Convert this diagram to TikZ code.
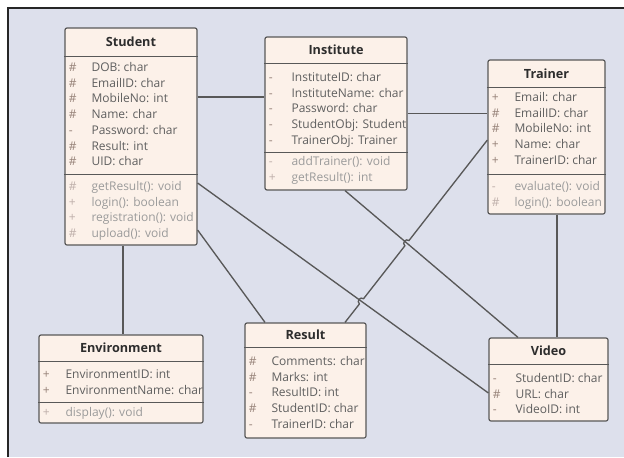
\documentclass[tikz,border=0pt]{standalone}
\usepackage{fontspec}
\setmainfont{Open Sans}
\usetikzlibrary{calc}

\definecolor{bgcol}{RGB}{221,224,236}
\definecolor{boxfill}{RGB}{252,241,233}
\definecolor{boxline}{RGB}{88,88,88}
\definecolor{namecol}{RGB}{45,45,45}
\definecolor{attrcol}{RGB}{95,95,95}
\definecolor{attrmark}{RGB}{150,130,120}
\definecolor{opcol}{RGB}{155,155,155}
\definecolor{opmark}{RGB}{190,175,170}

\newcommand{\va}[1]{\makebox[17pt][l]{\textcolor{attrmark}{#1}}}
\newcommand{\vo}[1]{\makebox[17pt][l]{\textcolor{opmark}{#1}}}

\tikzset{every picture/.style={line width=0.75pt}}
\tikzset{
	classbox/.style={draw=boxline, fill=boxfill, line width=0.9pt, rounded corners=1.5pt, inner sep=0pt},
	classname/.style={font=\fontsize{9.5}{11}\selectfont\bfseries, text=namecol, inner sep=0pt},
	attrlist/.style={anchor=base west, inner sep=0pt, font=\fontsize{9}{11.8}\selectfont, text=attrcol},
	oplist/.style={attrlist, text=opcol},
	divider/.style={draw=boxline, line width=0.9pt},
	assoc/.style={draw=boxline, line width=1pt}
}

\begin{document}
\begin{tikzpicture}[x=0.75pt,y=0.75pt,yscale=-1,xscale=1]
		\useasboundingbox (0,0) rectangle (624,457);
		
		%Frame and background
		\fill[bgcol] (8,8) rectangle (624,457);
		\draw[line width=1.5pt, black!85] (8,457) -- (8,8) -- (624,8);
		
		%Class boxes
		\node[classbox, minimum width=99pt, minimum height=162.75pt] (student) at (131,136.5) {};
		\node[classbox, minimum width=106.5pt, minimum height=114.75pt] (institute) at (336,113.5) {};
		\node[classbox, minimum width=87.75pt, minimum height=115.5pt] (trainer) at (546.5,137) {};
		\node[classbox, minimum width=123pt, minimum height=66pt] (environment) at (121,379) {};
		\node[classbox, minimum width=90.75pt, minimum height=86.25pt] (result) at (305.5,380.5) {};
		\node[classbox, minimum width=89.25pt, minimum height=62.25pt] (video) at (548.5,379.5) {};
		
		%Student
		\node[classname] (student-t) at ($(student.north)+(0,14.5)$) {Student};
		\draw[divider] ($(student.north west)+(0,29)$) -- ($(student.north east)+(0,29)$);
		\node[attrlist] (student-a) at ($(student.north west)+(4,44)$) {\begin{tabular}[t]{@{}l@{}}
				\va{\#}DOB: char\\ \va{\#}EmailID: char\\ \va{\#}MobileNo: int\\ \va{\#}Name: char\\
				\va{-}Password: char\\ \va{\#}Result: int\\ \va{\#}UID: char\end{tabular}};
		\draw[divider] ($(student.north west)+(0,147)$) -- ($(student.north east)+(0,147)$);
		\node[oplist] (student-o) at ($(student.north west)+(4,163)$) {\begin{tabular}[t]{@{}l@{}}
				\vo{\#}getResult(): void\\ \vo{+}login(): boolean\\ \vo{+}registration(): void\\ \vo{\#}upload(): void\end{tabular}};
		
		%Institute
		\node[classname] (institute-t) at ($(institute.north)+(0,13.5)$) {Institute};
		\draw[divider] ($(institute.north west)+(0,27)$) -- ($(institute.north east)+(0,27)$);
		\node[attrlist] (institute-a) at ($(institute.north west)+(4,45)$) {\begin{tabular}[t]{@{}l@{}}
				\va{-}InstituteID: char\\ \va{-}InstituteName: char\\ \va{-}Password: char\\
				\va{-}StudentObj: Student\\ \va{-}TrainerObj: Trainer\end{tabular}};
		\draw[divider] ($(institute.north west)+(0,116)$) -- ($(institute.north east)+(0,116)$);
		\node[oplist] (institute-o) at ($(institute.north west)+(4,129)$) {\begin{tabular}[t]{@{}l@{}}
				\vo{-}addTrainer(): void\\ \vo{+}getResult(): int\end{tabular}};
		
		%Trainer
		\node[classname] (trainer-t) at ($(trainer.north)+(0,14)$) {Trainer};
		\draw[divider] ($(trainer.north west)+(0,28)$) -- ($(trainer.north east)+(0,28)$);
		\node[attrlist] (trainer-a) at ($(trainer.north west)+(4,42)$) {\begin{tabular}[t]{@{}l@{}}
				\va{+}Email: char\\ \va{\#}EmailID: char\\ \va{\#}MobileNo: int\\ \va{+}Name: char\\ \va{+}TrainerID: char\end{tabular}};
		\draw[divider] ($(trainer.north west)+(0,115)$) -- ($(trainer.north east)+(0,115)$);
		\node[oplist] (trainer-o) at ($(trainer.north west)+(4,131)$) {\begin{tabular}[t]{@{}l@{}}
				\vo{-}evaluate(): void\\ \vo{\#}login(): boolean\end{tabular}};
		
		%Environment
		\node[classname] (environment-t) at ($(environment.north)+(0,13.5)$) {Environment};
		\draw[divider] ($(environment.north west)+(0,27)$) -- ($(environment.north east)+(0,27)$);
		\node[attrlist] (environment-a) at ($(environment.north west)+(4,44)$) {\begin{tabular}[t]{@{}l@{}}
				\va{+}EnvironmentID: int\\ \va{+}EnvironmentName: char\end{tabular}};
		\draw[divider] ($(environment.north west)+(0,68)$) -- ($(environment.north east)+(0,68)$);
		\node[oplist] (environment-o) at ($(environment.north west)+(4,82)$) {\begin{tabular}[t]{@{}l@{}}
				\vo{+}display(): void\end{tabular}};
		
		%Result
		\node[classname] (result-t) at ($(result.north)+(0,12.5)$) {Result};
		\draw[divider] ($(result.north west)+(0,25)$) -- ($(result.north east)+(0,25)$);
		\node[attrlist] (result-a) at ($(result.north west)+(4,43)$) {\begin{tabular}[t]{@{}l@{}}
				\va{\#}Comments: char\\ \va{\#}Marks: int\\ \va{-}ResultID: int\\ \va{\#}StudentID: char\\ \va{-}TrainerID: char\end{tabular}};
		
		%Video
		\node[classname] (video-t) at ($(video.north)+(0,13.5)$) {Video};
		\draw[divider] ($(video.north west)+(0,27)$) -- ($(video.north east)+(0,27)$);
		\node[attrlist] (video-a) at ($(video.north west)+(4,45)$) {\begin{tabular}[t]{@{}l@{}}
				\va{-}StudentID: char\\ \va{\#}URL: char\\ \va{-}VideoID: int\end{tabular}};
		
		%Connector ends
		\coordinate (stu-ins) at ($(student.east)+(0,-39.5)$);
		\coordinate (stu-vid) at ($(student.east)+(0,46.5)$);
		\coordinate (stu-res) at ($(student.east)+(0,93.5)$);
		\coordinate (vid-stu) at ($(video.west)+(0,13.5)$);
		\coordinate (res-stu) at ($(result.north)+(-40.5,0)$);
		\coordinate (ins-vid) at ($(institute.south)+(9,0)$);
		\coordinate (vid-ins) at ($(video.north)+(-30.5,0)$);
		\coordinate (tra-res) at ($(trainer.west)+(0,3)$);
		\coordinate (res-tra) at ($(result.north)+(39.5,0)$);
		\coordinate (hop1) at (intersection of ins-vid--vid-ins and tra-res--res-tra);
		\coordinate (hop2) at (intersection of stu-vid--vid-stu and tra-res--res-tra);
		
		%Associations
		\draw[assoc] (stu-ins) -- (institute.west |- stu-ins);
		\draw[assoc] (institute.east) -- (trainer.west |- institute.east);
		\draw[assoc] ($(student.south)+(-8,0)$) -- ($(environment.north)+(2,0)$);
		\draw[assoc] (stu-res) -- (res-stu);
		\draw[assoc] (stu-vid) -- (vid-stu);
		\draw[assoc] (ins-vid) -- (vid-ins);
		\draw[assoc] ($(trainer.south)+(10.5,0)$) -- ($(video.north)+(8.5,0)$);
		\draw[assoc] (tra-res) -- ($(hop1)!2.5pt!(tra-res)$) to[bend left=90, looseness=1.6] ($(hop1)!2.5pt!(res-tra)$)
			-- ($(hop2)!2.5pt!(tra-res)$) to[bend left=90, looseness=1.6] ($(hop2)!2.5pt!(res-tra)$) -- (res-tra);
		
	\end{tikzpicture}
\end{document}
